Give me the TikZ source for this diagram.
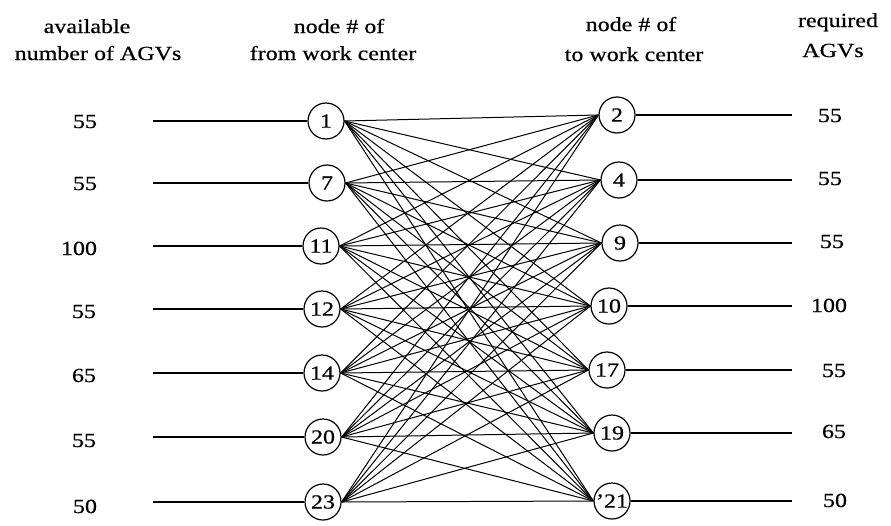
\documentclass[tikz,border=0pt]{standalone}
\usepackage{fontspec}
\setmainfont{Liberation Serif}[FakeStretch=1.2,FakeBold=0.6]
\usetikzlibrary{shapes.geometric}
\tikzset{
  wcnode/.style={draw, circle, minimum size=36pt,
    inner sep=0pt, line width=1.2pt},
  amount/.style={anchor=base},
  head/.style={anchor=base},
  feed/.style={line width=1.2pt},
  route/.style={line width=1pt},
}
\begin{document}
\begin{tikzpicture}[x=1pt,y=-1pt,font=\fontsize{20}{24}\selectfont]%
% frame of the page
\useasboundingbox (0,0) rectangle (891,525);
% column heads
\node[head] (h1a) at (87,33) {available};
\node[head] (h1b) at (98,60) {number of AGVs};
\node[head] (h2a) at (339,33) {node \# of};
\node[head] (h2b) at (333,60) {from work center};
\node[head] (h3a) at (631,31) {node \# of};
\node[head] (h3b) at (634,61) {to work center};
\node[head] (h4a) at (838,27) {required};
\node[head] (h4b) at (833,57) {AGVs};
% from work centers
\node[wcnode] (f1) at (326,121) {1};
\node[wcnode] (f7) at (327,183) {7};
\node[wcnode] (f11) at (321,246) {11};
\node[wcnode] (f12) at (322,309) {12};
\node[wcnode] (f14) at (322,373) {14};
\node[wcnode] (f20) at (323,437) {20};
\node[wcnode] (f23) at (323,502) {23};
% to work centers
\node[wcnode] (t2) at (617,115) {2};
\node[wcnode] (t4) at (619,180) {4};
\node[wcnode] (t9) at (620,243) {9};
\node[wcnode] (t10) at (609,306) {10};
\node[wcnode] (t17) at (607,370) {17};
\node[wcnode] (t19) at (612,433) {19};
\node[wcnode] (t21) at (612,501) {'21};
% available AGVs
\node[amount] (a1) at (85,128) {55};
\node[amount] (a7) at (85,190) {55};
\node[amount] (a11) at (79,255) {100};
\node[amount] (a12) at (84,318) {55};
\node[amount] (a14) at (84,382) {65};
\node[amount] (a20) at (84,447) {55};
\node[amount] (a23) at (85,513) {50};
% required AGVs
\node[amount] (r2) at (830,122) {55};
\node[amount] (r4) at (830,185) {55};
\node[amount] (r9) at (832,248) {55};
\node[amount] (r10) at (829,312) {100};
\node[amount] (r17) at (834,377) {55};
\node[amount] (r19) at (834,438) {65};
\node[amount] (r21) at (835,507) {50};
% free ends of the supply and demand lines
\coordinate (s1) at (153,121);
\coordinate (s7) at (153,183);
\coordinate (s11) at (153,246);
\coordinate (s12) at (153,309);
\coordinate (s14) at (153,373);
\coordinate (s20) at (153,437);
\coordinate (s23) at (153,502);
\coordinate (d2) at (792,115);
\coordinate (d4) at (792,180);
\coordinate (d9) at (792,243);
\coordinate (d10) at (792,306);
\coordinate (d17) at (792,370);
\coordinate (d19) at (792,433);
\coordinate (d21) at (792,501);
\foreach \f in {1,7,11,12,14,20,23}
  \draw[feed] (s\f) -- (f\f);
\foreach \t in {2,4,9,10,17,19,21}
  \draw[feed] (t\t) -- (d\t);
% every from node to every to node
\foreach \f in {1,7,11,12,14,20,23}
  \foreach \t in {2,4,9,10,17,19,21}
    \draw[route] (f\f.east) -- (t\t.west);
\end{tikzpicture}
\end{document}
